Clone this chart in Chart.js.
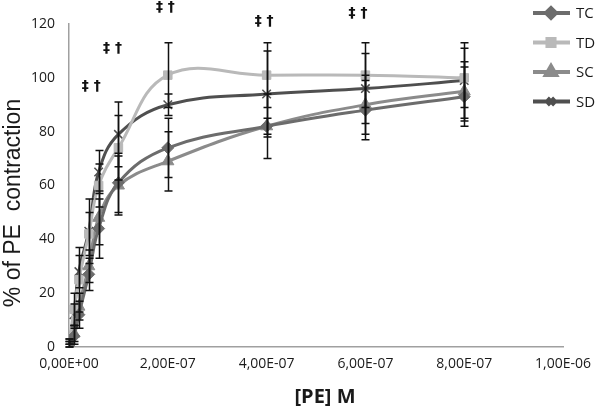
<!DOCTYPE html>
<html>
<head>
<meta charset="utf-8">
<script src="https://cdn.jsdelivr.net/npm/chart.js@4"></script>
<style>
  body { margin: 0; background: #fff; }
  #wrap { width: 600px; height: 411px; position: relative; }
</style>
</head>
<body>
<div id="wrap"><canvas id="chart"></canvas></div>
<script>
// concentrations of PE (M)
const conc = [1e-9, 1e-8, 2e-8, 4e-8, 6e-8, 1e-7, 2e-7, 4e-7, 6e-7, 8e-7]

const tc = [1, 4, 12, 27, 44, 61, 74, 82, 88, 93]
const td = [2, 14, 25, 42, 60, 74, 101, 101, 101, 100]
const sc = [1, 5, 15, 30, 48, 60, 69, 82, 90, 95]
const sd = [2, 12, 28, 43, 65, 79, 90, 94, 96, 99]

const tcErr = [1, 3, 5, 6, 11, 11, 11, 3, 11, 11]
const tdErr = [1, 6, 12, 8, 8, 12, 12, 12, 12, 11]
const scErr = [1, 3, 5, 6, 10, 11, 11, 12, 11, 11]
const sdErr = [1, 4, 6, 12, 8, 12, 4, 16, 13, 14]

const xTicks = [0, 2e-7, 4e-7, 6e-7, 8e-7, 1e-6]

// significance marks above the curves
const markX = [4.5e-8, 8.8e-8, 1.95e-7, 3.95e-7, 5.85e-7]
const markY = [97, 111, 126, 121, 124]
const markText = "‡ †"

function points(ys) {
  return conc.map((c, i) => ({ x: c, y: ys[i] }))
}

function makeSet(label, ys, errs, color, style, radius) {
  return {
    label: label,
    data: points(ys),
    errors: errs,
    borderColor: color,
    backgroundColor: color,
    pointBackgroundColor: color,
    pointBorderColor: color,
    pointStyle: style,
    pointRadius: radius,
    pointBorderWidth: style === "crossRot" ? 1.5 : 1,
    borderWidth: 3,
    tension: 0.4
  }
}

function sciLabel(v) {
  if (v === 0) return "0,00E+00"
  const exp = Math.floor(Math.log10(v) + 1e-9)
  const mant = (v / Math.pow(10, exp)).toFixed(2).replace(".", ",")
  const sign = exp < 0 ? "-" : "+"
  return mant + "E" + sign + String(Math.abs(exp)).padStart(2, "0")
}

const errorBars = {
  id: "errorBars",
  afterDatasetsDraw(chart) {
    const { ctx, scales: { x, y } } = chart
    ctx.save()
    ctx.strokeStyle = "#111"
    ctx.lineWidth = 1.5
    chart.data.datasets.forEach(ds => {
      ds.data.forEach((p, i) => {
        const e = ds.errors[i]
        const px = Math.round(x.getPixelForValue(p.x)) + 0.5
        const top = y.getPixelForValue(p.y + e)
        const bot = y.getPixelForValue(Math.max(0, p.y - e))
        ctx.beginPath()
        ctx.moveTo(px, top); ctx.lineTo(px, bot)
        ctx.moveTo(px - 4, top); ctx.lineTo(px + 4, top)
        ctx.moveTo(px - 4, bot); ctx.lineTo(px + 4, bot)
        ctx.stroke()
      })
    })
    ctx.restore()
  }
}

const extras = {
  id: "extras",
  afterDraw(chart) {
    const { ctx, scales: { x, y } } = chart
    ctx.save()
    // significance marks
    ctx.fillStyle = "#111"
    ctx.font = "bold 14px 'DejaVu Sans'"
    ctx.textAlign = "center"
    ctx.textBaseline = "middle"
    markX.forEach((mx, i) => {
      ctx.fillText(markText, x.getPixelForValue(mx), y.getPixelForValue(markY[i]))
    })

    // axis titles
    ctx.fillStyle = "#1a1a1a"
    ctx.font = "bold 20px 'Open Sans'"
    ctx.fillText("[PE] M", 325, 397)
    ctx.save()
    ctx.translate(14, 203)
    ctx.rotate(-Math.PI / 2)
    ctx.font = "23px 'Liberation Sans'"
    ctx.fillText("% of PE  contraction", 0, 0)
    ctx.restore()

    // legend
    ctx.font = "15px 'Open Sans'"
    ctx.textAlign = "left"
    chart.data.datasets.forEach((ds, i) => {
      const ly = 13 + i * 29.5
      ctx.strokeStyle = ds.borderColor
      ctx.lineWidth = 4
      ctx.beginPath()
      ctx.moveTo(533, ly); ctx.lineTo(570, ly)
      ctx.stroke()
      Chart.helpers.drawPoint(ctx, {
        pointStyle: ds.pointStyle,
        radius: ds.pointRadius - 1,
        borderWidth: ds.pointBorderWidth,
        rotation: 0
      }, 551, ly)
      ctx.fillStyle = ds.borderColor
      ctx.fill()
      ctx.fillStyle = "#1a1a1a"
      ctx.fillText(ds.label, 576, ly + 1)
    })
    ctx.restore()
  }
}

const ctx = document.getElementById("chart")
new Chart(ctx, {
  type: "line",
  data: {
    datasets: [
      makeSet("TC", tc, tcErr, "#6c6c6c", "rectRot", 6),
      makeSet("TD", td, tdErr, "#b9b9b9", "rect", 6),
      makeSet("SC", sc, scErr, "#8b8b8b", "triangle", 7),
      makeSet("SD", sd, sdErr, "#4f4f4f", "crossRot", 6)
    ]
  },
  options: {
    responsive: true,
    maintainAspectRatio: false,
    animation: false,
    layout: { padding: { top: 24, right: 33, left: 0, bottom: 0 } },
    plugins: {
      legend: { display: false },
      tooltip: { enabled: false }
    },
    scales: {
      x: {
        type: "linear",
        min: 0,
        max: 1e-6,
        afterBuildTicks: scale => { scale.ticks = xTicks.map(v => ({ value: v })) },
        afterFit: scale => { scale.height = 64 },
        grid: { display: false, drawTicks: false },
        border: { color: "#a0a0a0", width: 1.5 },
        ticks: {
          padding: 9,
          maxRotation: 0,
          color: "#1a1a1a",
          font: { family: "Open Sans", size: 14 },
          callback: v => sciLabel(v)
        }
      },
      y: {
        min: 0,
        max: 120,
        afterFit: scale => { scale.width = 69 },
        grid: { display: false, drawTicks: false },
        border: { color: "#a0a0a0", width: 1.5 },
        ticks: {
          stepSize: 20,
          padding: 14,
          color: "#1a1a1a",
          font: { family: "Open Sans", size: 14 }
        }
      }
    }
  },
  plugins: [errorBars, extras]
})
</script>
</body>
</html>
